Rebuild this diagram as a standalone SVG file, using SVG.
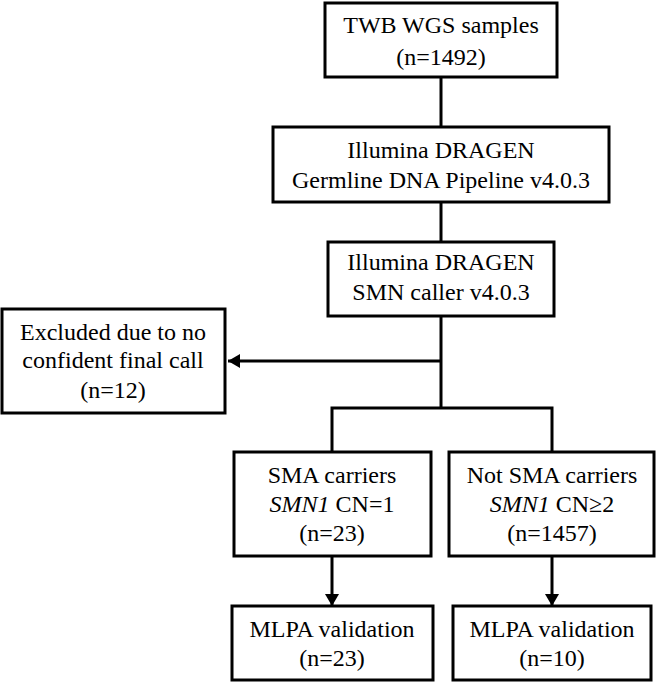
<svg xmlns="http://www.w3.org/2000/svg" width="657" height="685" viewBox="0 0 657 685">
<style>
rect{fill:#fff;stroke:#000;stroke-width:3}
text{font-family:"Liberation Serif",serif;font-size:24px;text-anchor:middle;fill:#000}
.c line,.c polyline{stroke:#000;stroke-width:3;fill:none}
</style>
<defs><marker id="a" markerWidth="8" markerHeight="8" refX="7" refY="4" orient="auto" markerUnits="userSpaceOnUse" viewBox="0 0 8 8"><path d="M0,0 L8,4 L0,8 z" fill="#000"/></marker>
<marker id="b" markerWidth="12" markerHeight="14" refX="12" refY="7" orient="auto" markerUnits="userSpaceOnUse"><path d="M0,0 L12,7 L0,14 z" fill="#000"/></marker></defs>
<g class="c">
<line x1="441" y1="77" x2="441" y2="127"/>
<line x1="441" y1="202" x2="441" y2="242"/>
<line x1="441" y1="316" x2="441" y2="408"/>
<line x1="441" y1="361" x2="228" y2="361" marker-end="url(#b)"/>
<polyline points="332,452 332,408 552,408 552,452"/>
<line x1="332" y1="556" x2="332" y2="606" marker-end="url(#b)"/>
<line x1="552" y1="556" x2="552" y2="606" marker-end="url(#b)"/>
</g>
<g id="n1"><rect x="325" y="3" width="232" height="74"/><text x="441" y="33">TWB WGS samples</text><text x="441" y="65">(n=1492)</text></g>
<g id="n2"><rect x="273" y="127" width="336" height="75"/><text x="441" y="158">Illumina DRAGEN</text><text x="441" y="188">Germline DNA Pipeline v4.0.3</text></g>
<g id="n3"><rect x="328" y="242" width="226" height="74"/><text x="441" y="270">Illumina DRAGEN</text><text x="441" y="300">SMN caller v4.0.3</text></g>
<g id="n4"><rect x="2" y="309" width="223" height="104"/><text x="113" y="340">Excluded due to no</text><text x="113" y="368">confident final call</text><text x="113" y="398">(n=12)</text></g>
<g id="n5"><rect x="234" y="452" width="197" height="104"/><text x="332" y="483">SMA carriers</text><text x="332" y="512"><tspan font-style="italic">SMN1</tspan> CN=1</text><text x="332" y="541">(n=23)</text></g>
<g id="n6"><rect x="449" y="452" width="205" height="104"/><text x="552" y="483">Not SMA carriers</text><text x="552" y="512"><tspan font-style="italic">SMN1</tspan> CN≥2</text><text x="552" y="541">(n=1457)</text></g>
<g id="n7"><rect x="232" y="606" width="201" height="74"/><text x="332" y="637">MLPA validation</text><text x="332" y="666">(n=23)</text></g>
<g id="n8"><rect x="453" y="606" width="198" height="74"/><text x="552" y="637">MLPA validation</text><text x="552" y="666">(n=10)</text></g>
</svg>
